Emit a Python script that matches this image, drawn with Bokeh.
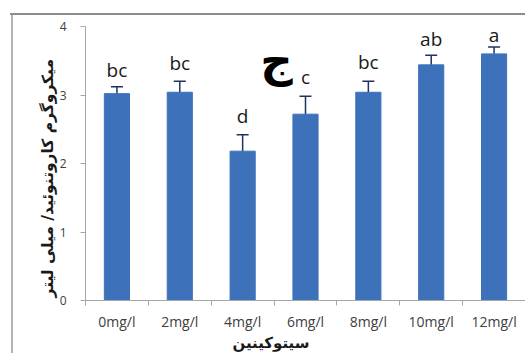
from bokeh.plotting import figure
from bokeh.models import ColumnDataSource, Range1d, FixedTicker, Whisker, Label, Title
from bokeh.core.properties import value
from bokeh.embed import file_html
from bokeh.resources import INLINE

categories = ["0mg/l", "2mg/l", "4mg/l", "6mg/l", "8mg/l", "10mg/l", "12mg/l"]
means = [3.02, 3.04, 2.18, 2.72, 3.04, 3.44, 3.60]
errors = [0.10, 0.16, 0.24, 0.26, 0.16, 0.14, 0.10]
letters = ["bc", "bc", "d", "c", "bc", "ab", "a"]
y_ticks = [0, 1, 2, 3, 4]
y_title = "میکروگرم کاروتنوئید/ میلی لیتر"
x_title = "سیتوکینین"
panel_mark = "ج"

# styling: pixel gap between each letter and the top of its error bar
label_gap_px = [9, 10, 11, 11, 11, 8, 4]

xs = [i + 0.5 for i in range(len(categories))]
src = ColumnDataSource(dict(
    x=xs, top=means,
    upper=[m + e for m, e in zip(means, errors)],
    lower=[m - e for m, e in zip(means, errors)],
    lab=letters,
    yoff=[-(g + 8) for g in label_gap_px],
))

p = figure(frame_width=440, frame_height=274, output_backend="svg", toolbar_location=None,
           x_range=Range1d(0, len(categories)), y_range=Range1d(0, 4),
           min_border_left=85, min_border_right=0, min_border_top=26, min_border_bottom=4)
p.outline_line_color = None
p.xgrid.visible = False
p.ygrid.visible = False
p.border_fill_color = None
p.background_fill_color = "white"
p.styles = {
    "background-image": "linear-gradient(#8c8c8c, #8c8c8c), linear-gradient(#b4b4b4, #b4b4b4)",
    "background-size": "calc(100% - 10px) 2px, 2px calc(100% - 14px)",
    "background-position": "10px 13px, 11px 14px",
    "background-repeat": "no-repeat",
}

p.vbar(x="x", top="top", width=0.4, bottom=0, source=src,
       fill_color="#3d72ba", line_color="#3d72ba")

w = Whisker(base="x", upper="upper", lower="lower", source=src,
            line_color="#1c355e", line_width=1.5)
w.upper_head.size = 12
w.lower_head.size = 12
w.upper_head.line_color = "#1c355e"
w.lower_head.line_color = "#1c355e"
w.upper_head.line_width = 1.5
w.lower_head.line_width = 1.5
p.add_layout(w)

p.text(x="x", y="upper", text="lab", source=src, text_align="center",
       text_baseline="alphabetic", y_offset="yoff", text_font=value("Open Sans"),
       text_font_size="19px", text_color="#1a1a1a")

# x axis
p.xaxis.ticker = FixedTicker(ticks=xs, minor_ticks=list(range(len(categories) + 1)))
p.xaxis.major_label_overrides = {x: c for x, c in zip(xs, categories)}
p.xaxis.major_tick_line_color = None
p.xaxis.minor_tick_line_color = "#a6a6a6"
p.xaxis.minor_tick_out = 5
p.xaxis.minor_tick_in = 0
p.xaxis.axis_line_color = "#a6a6a6"
p.xaxis.major_label_text_font = "Open Sans"
p.xaxis.major_label_text_font_size = "14px"
p.xaxis.major_label_text_color = "#404040"
p.xaxis.major_label_standoff = 5

p.add_layout(Title(text=x_title, align="left", offset=147, standoff=0,
                   vertical_align="top",
                   text_font="DejaVu Sans", text_font_style="bold",
                   text_font_size="15px", text_color="#1a1a1a"), "below")

# y axis
p.yaxis.ticker = FixedTicker(ticks=y_ticks)
p.yaxis.minor_tick_line_color = None
p.yaxis.major_tick_out = 5
p.yaxis.major_tick_in = 0
p.yaxis.major_tick_line_color = "#a6a6a6"
p.yaxis.axis_line_color = "#a6a6a6"
p.yaxis.major_label_text_font = "Open Sans"
p.yaxis.major_label_text_font_size = "12px"
p.yaxis.major_label_text_color = "#404040"
p.yaxis.major_label_standoff = 14

p.add_layout(Title(text=y_title, align="left", offset=3, standoff=0,
                   text_font="DejaVu Sans", text_font_style="bold",
                   text_font_size="15.5px", text_color="#1a1a1a"), "left")

p.add_layout(Label(x=3.04, y=3.5, text=panel_mark, text_align="center",
                   text_baseline="middle", text_font="DejaVu Sans",
                   text_font_style="bold", text_font_size="45px",
                   text_color="#000000"))

open("out.html", "w").write(file_html(p, INLINE))
